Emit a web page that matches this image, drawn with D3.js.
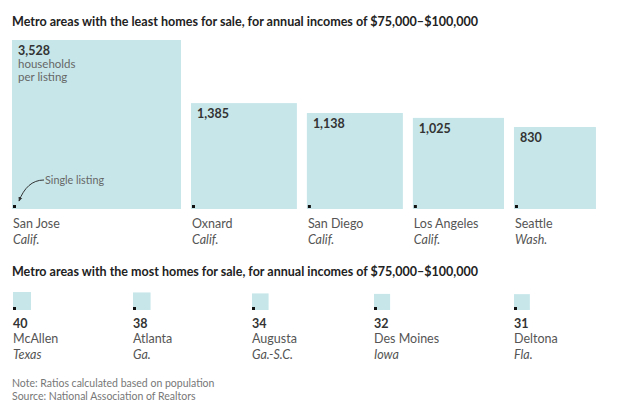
<!DOCTYPE html>
<html><head><meta charset="utf-8">
<script src="https://cdn.jsdelivr.net/npm/d3@7"></script>
<style>body{margin:0;background:#fff}svg{display:block}text{font-family:Lato,"Noto Sans",sans-serif}</style>
</head><body><svg id="c" width="630" height="418"></svg>
<script>
const titles = ["Metro areas with the least homes for sale, for annual incomes of $75,000\u2013$100,000",
                "Metro areas with the most homes for sale, for annual incomes of $75,000\u2013$100,000"];
const leastCities = ["San Jose","Oxnard","San Diego","Los Angeles","Seattle"];
const leastStates = ["Calif.","Calif.","Calif.","Calif.","Wash."];
const leastValues = [3528,1385,1138,1025,830];
const mostCities = ["McAllen","Atlanta","Augusta","Des Moines","Deltona"];
const mostStates = ["Texas","Ga.","Ga.-S.C.","Iowa","Fla."];
const mostValues = [40,38,34,32,31];
const unitLabel = ["households","per listing"];
const annotation = "Single listing";
const notes = ["Note: Ratios calculated based on population","Source: National Association of Realtors"];

const fill = "#c6e6ea";
const svg = d3.select("#c");
const side = d3.scaleSqrt().domain([0, 3528]).range([0, 169]);
const fmt = d3.format(",");

svg.append("defs").append("marker").attr("id","ah").attr("viewBox","0 0 10 10")
  .attr("refX",8).attr("refY",5).attr("markerWidth",5).attr("markerHeight",5).attr("orient","auto")
  .append("path").attr("d","M0,1L9,5L0,9Z").attr("fill","#333");

function title(t, y){
  svg.append("text").attr("x",12).attr("y",y).attr("font-size",12.5).attr("font-weight",700)
    .attr("fill","#222").attr("textLength",466).attr("lengthAdjust","spacingAndGlyphs").text(t);
}
title(titles[0], 26);
title(titles[1], 276);

// Top row
const base1 = 209;
let x = 12;
const xs1 = leastValues.map(v => { const p = x; x += side(v) + 10; return p; });
const g1 = svg.append("g");
leastValues.forEach((v,i)=>{
  const s = side(v), x0 = xs1[i];
  g1.append("rect").attr("x",x0).attr("y",base1-s).attr("width",s).attr("height",s).attr("fill",fill);
  g1.append("rect").attr("x",x0+1).attr("y",base1-4).attr("width",3).attr("height",3).attr("fill","#111");
  g1.append("text").attr("x",x0+6).attr("y",base1-s+15).attr("font-size",12.5).attr("font-weight",700)
    .attr("fill","#333").text(fmt(v));
  if(i===0){
    unitLabel.forEach((u,k)=>g1.append("text").attr("x",x0+6).attr("y",base1-s+28+k*12.5)
      .attr("font-size",11.5).attr("fill","#666").text(u));
  }
  g1.append("text").attr("x",x0+1).attr("y",228).attr("font-size",12.5).attr("fill","#555").text(leastCities[i]);
  g1.append("text").attr("x",x0+1).attr("y",244).attr("font-size",12.5).attr("font-style","italic")
    .attr("fill","#555").text(leastStates[i]);
});
// annotation
g1.append("text").attr("x",45).attr("y",184).attr("font-size",11).attr("fill","#666")
  .attr("textLength",59).attr("lengthAdjust","spacingAndGlyphs").text(annotation);
g1.append("path").attr("d","M44,180 C32,180 24,188 19,201").attr("fill","none")
  .attr("stroke","#333").attr("stroke-width",1).attr("marker-end","url(#ah)");

// Bottom row
const base2 = 310;
const xs2 = [12,132,251,373,513];
const g2 = svg.append("g");
mostValues.forEach((v,i)=>{
  const s = side(v), x0 = xs2[i];
  g2.append("rect").attr("x",x0+1).attr("y",base2-s).attr("width",s).attr("height",s).attr("fill",fill);
  g2.append("rect").attr("x",x0+1).attr("y",base2-3).attr("width",3).attr("height",3).attr("fill","#111");
  g2.append("text").attr("x",x0+1).attr("y",328).attr("font-size",12.5).attr("font-weight",700)
    .attr("fill","#333").text(fmt(v));
  g2.append("text").attr("x",x0+1).attr("y",343).attr("font-size",12.5).attr("fill","#555").text(mostCities[i]);
  g2.append("text").attr("x",x0+1).attr("y",359).attr("font-size",12.5).attr("font-style","italic")
    .attr("fill","#555").text(mostStates[i]);
});

notes.forEach((n,k)=>svg.append("text").attr("x",12).attr("y",387+k*12.5).attr("font-size",10.5)
  .attr("fill","#777").text(n));
</script></body></html>
